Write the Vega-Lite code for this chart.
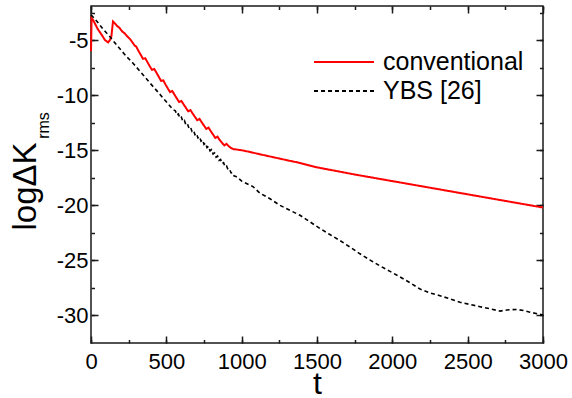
{
  "$schema": "https://vega.github.io/schema/vega-lite/v6.json",
  "width": 452,
  "height": 337,
  "autosize": "none",
  "padding": {"left": 91, "top": 6, "right": 29, "bottom": 55},
  "datasets": {
    "conv": [
      {"t": 0, "v": -6.0, "s": "conventional"},
      {"t": 4, "v": -3.0, "s": "conventional"},
      {"t": 15, "v": -3.2, "s": "conventional"},
      {"t": 30, "v": -3.6, "s": "conventional"},
      {"t": 45, "v": -4.0, "s": "conventional"},
      {"t": 60, "v": -4.3, "s": "conventional"},
      {"t": 75, "v": -4.6, "s": "conventional"},
      {"t": 93, "v": -5.0, "s": "conventional"},
      {"t": 113, "v": -5.2, "s": "conventional"},
      {"t": 125, "v": -5.0, "s": "conventional"},
      {"t": 135, "v": -4.7, "s": "conventional"},
      {"t": 146, "v": -3.3, "s": "conventional"},
      {"t": 160, "v": -3.5, "s": "conventional"},
      {"t": 172, "v": -3.7, "s": "conventional"},
      {"t": 190, "v": -3.9, "s": "conventional"},
      {"t": 206, "v": -4.2, "s": "conventional"},
      {"t": 225, "v": -4.4, "s": "conventional"},
      {"t": 240, "v": -4.65, "s": "conventional"},
      {"t": 259, "v": -4.9, "s": "conventional"},
      {"t": 275, "v": -5.2, "s": "conventional"},
      {"t": 290, "v": -5.5, "s": "conventional"},
      {"t": 300, "v": -5.58, "s": "conventional"},
      {"t": 315, "v": -5.97, "s": "conventional"},
      {"t": 330, "v": -6.33, "s": "conventional"},
      {"t": 345, "v": -6.7, "s": "conventional"},
      {"t": 360, "v": -6.64, "s": "conventional"},
      {"t": 375, "v": -7.01, "s": "conventional"},
      {"t": 390, "v": -7.37, "s": "conventional"},
      {"t": 405, "v": -7.7, "s": "conventional"},
      {"t": 420, "v": -7.62, "s": "conventional"},
      {"t": 435, "v": -7.97, "s": "conventional"},
      {"t": 450, "v": -8.33, "s": "conventional"},
      {"t": 465, "v": -8.7, "s": "conventional"},
      {"t": 480, "v": -8.65, "s": "conventional"},
      {"t": 495, "v": -9.04, "s": "conventional"},
      {"t": 510, "v": -9.39, "s": "conventional"},
      {"t": 525, "v": -9.72, "s": "conventional"},
      {"t": 540, "v": -9.62, "s": "conventional"},
      {"t": 555, "v": -9.97, "s": "conventional"},
      {"t": 570, "v": -10.3, "s": "conventional"},
      {"t": 585, "v": -10.62, "s": "conventional"},
      {"t": 600, "v": -10.52, "s": "conventional"},
      {"t": 615, "v": -10.84, "s": "conventional"},
      {"t": 630, "v": -11.15, "s": "conventional"},
      {"t": 645, "v": -11.46, "s": "conventional"},
      {"t": 660, "v": -11.35, "s": "conventional"},
      {"t": 675, "v": -11.67, "s": "conventional"},
      {"t": 690, "v": -11.97, "s": "conventional"},
      {"t": 705, "v": -12.27, "s": "conventional"},
      {"t": 720, "v": -12.15, "s": "conventional"},
      {"t": 735, "v": -12.46, "s": "conventional"},
      {"t": 750, "v": -12.76, "s": "conventional"},
      {"t": 765, "v": -13.06, "s": "conventional"},
      {"t": 780, "v": -12.94, "s": "conventional"},
      {"t": 795, "v": -13.27, "s": "conventional"},
      {"t": 810, "v": -13.57, "s": "conventional"},
      {"t": 825, "v": -13.88, "s": "conventional"},
      {"t": 840, "v": -13.76, "s": "conventional"},
      {"t": 855, "v": -14.09, "s": "conventional"},
      {"t": 870, "v": -14.33, "s": "conventional"},
      {"t": 885, "v": -14.56, "s": "conventional"},
      {"t": 900, "v": -14.42, "s": "conventional"},
      {"t": 915, "v": -14.64, "s": "conventional"},
      {"t": 930, "v": -14.8, "s": "conventional"},
      {"t": 945, "v": -14.9, "s": "conventional"},
      {"t": 960, "v": -14.92, "s": "conventional"},
      {"t": 1000, "v": -15.0, "s": "conventional"},
      {"t": 1055, "v": -15.15, "s": "conventional"},
      {"t": 1100, "v": -15.3, "s": "conventional"},
      {"t": 1200, "v": -15.6, "s": "conventional"},
      {"t": 1300, "v": -15.9, "s": "conventional"},
      {"t": 1387, "v": -16.15, "s": "conventional"},
      {"t": 1500, "v": -16.55, "s": "conventional"},
      {"t": 1750, "v": -17.2, "s": "conventional"},
      {"t": 2000, "v": -17.8, "s": "conventional"},
      {"t": 2250, "v": -18.4, "s": "conventional"},
      {"t": 2500, "v": -19.0, "s": "conventional"},
      {"t": 2750, "v": -19.6, "s": "conventional"},
      {"t": 3000, "v": -20.2, "s": "conventional"}
    ],
    "ybs": [
      {"t": 0, "v": -2.7, "s": "YBS [26]"},
      {"t": 40, "v": -3.3, "s": "YBS [26]"},
      {"t": 80, "v": -4.0, "s": "YBS [26]"},
      {"t": 126, "v": -4.7, "s": "YBS [26]"},
      {"t": 180, "v": -5.6, "s": "YBS [26]"},
      {"t": 230, "v": -6.4, "s": "YBS [26]"},
      {"t": 279, "v": -7.1, "s": "YBS [26]"},
      {"t": 330, "v": -7.9, "s": "YBS [26]"},
      {"t": 392, "v": -8.9, "s": "YBS [26]"},
      {"t": 450, "v": -9.8, "s": "YBS [26]"},
      {"t": 500, "v": -10.6, "s": "YBS [26]"},
      {"t": 544, "v": -11.3, "s": "YBS [26]"},
      {"t": 560, "v": -11.42, "s": "YBS [26]"},
      {"t": 570, "v": -11.8, "s": "YBS [26]"},
      {"t": 580, "v": -11.71, "s": "YBS [26]"},
      {"t": 590, "v": -12.1, "s": "YBS [26]"},
      {"t": 600, "v": -12.0, "s": "YBS [26]"},
      {"t": 610, "v": -12.39, "s": "YBS [26]"},
      {"t": 620, "v": -12.3, "s": "YBS [26]"},
      {"t": 630, "v": -12.7, "s": "YBS [26]"},
      {"t": 640, "v": -12.6, "s": "YBS [26]"},
      {"t": 650, "v": -12.98, "s": "YBS [26]"},
      {"t": 660, "v": -12.88, "s": "YBS [26]"},
      {"t": 670, "v": -13.28, "s": "YBS [26]"},
      {"t": 680, "v": -13.18, "s": "YBS [26]"},
      {"t": 690, "v": -13.58, "s": "YBS [26]"},
      {"t": 700, "v": -13.46, "s": "YBS [26]"},
      {"t": 710, "v": -13.88, "s": "YBS [26]"},
      {"t": 720, "v": -13.76, "s": "YBS [26]"},
      {"t": 730, "v": -14.17, "s": "YBS [26]"},
      {"t": 740, "v": -14.05, "s": "YBS [26]"},
      {"t": 750, "v": -14.46, "s": "YBS [26]"},
      {"t": 760, "v": -14.35, "s": "YBS [26]"},
      {"t": 770, "v": -14.76, "s": "YBS [26]"},
      {"t": 780, "v": -14.64, "s": "YBS [26]"},
      {"t": 790, "v": -15.05, "s": "YBS [26]"},
      {"t": 800, "v": -14.94, "s": "YBS [26]"},
      {"t": 810, "v": -15.34, "s": "YBS [26]"},
      {"t": 820, "v": -15.24, "s": "YBS [26]"},
      {"t": 830, "v": -15.63, "s": "YBS [26]"},
      {"t": 840, "v": -15.53, "s": "YBS [26]"},
      {"t": 850, "v": -15.92, "s": "YBS [26]"},
      {"t": 860, "v": -15.83, "s": "YBS [26]"},
      {"t": 870, "v": -16.21, "s": "YBS [26]"},
      {"t": 880, "v": -16.13, "s": "YBS [26]"},
      {"t": 890, "v": -16.5, "s": "YBS [26]"},
      {"t": 900, "v": -16.43, "s": "YBS [26]"},
      {"t": 910, "v": -16.78, "s": "YBS [26]"},
      {"t": 920, "v": -16.74, "s": "YBS [26]"},
      {"t": 930, "v": -17.06, "s": "YBS [26]"},
      {"t": 940, "v": -17.04, "s": "YBS [26]"},
      {"t": 950, "v": -17.34, "s": "YBS [26]"},
      {"t": 960, "v": -17.36, "s": "YBS [26]"},
      {"t": 980, "v": -17.55, "s": "YBS [26]"},
      {"t": 1000, "v": -17.8, "s": "YBS [26]"},
      {"t": 1075, "v": -18.3, "s": "YBS [26]"},
      {"t": 1122, "v": -18.9, "s": "YBS [26]"},
      {"t": 1188, "v": -19.4, "s": "YBS [26]"},
      {"t": 1254, "v": -20.0, "s": "YBS [26]"},
      {"t": 1320, "v": -20.45, "s": "YBS [26]"},
      {"t": 1387, "v": -20.9, "s": "YBS [26]"},
      {"t": 1453, "v": -21.5, "s": "YBS [26]"},
      {"t": 1520, "v": -22.1, "s": "YBS [26]"},
      {"t": 1585, "v": -22.65, "s": "YBS [26]"},
      {"t": 1653, "v": -23.2, "s": "YBS [26]"},
      {"t": 1720, "v": -23.8, "s": "YBS [26]"},
      {"t": 1785, "v": -24.4, "s": "YBS [26]"},
      {"t": 1850, "v": -24.95, "s": "YBS [26]"},
      {"t": 1918, "v": -25.5, "s": "YBS [26]"},
      {"t": 1985, "v": -26.0, "s": "YBS [26]"},
      {"t": 2051, "v": -26.5, "s": "YBS [26]"},
      {"t": 2120, "v": -27.05, "s": "YBS [26]"},
      {"t": 2184, "v": -27.6, "s": "YBS [26]"},
      {"t": 2250, "v": -27.95, "s": "YBS [26]"},
      {"t": 2316, "v": -28.2, "s": "YBS [26]"},
      {"t": 2383, "v": -28.5, "s": "YBS [26]"},
      {"t": 2449, "v": -28.8, "s": "YBS [26]"},
      {"t": 2515, "v": -29.0, "s": "YBS [26]"},
      {"t": 2582, "v": -29.2, "s": "YBS [26]"},
      {"t": 2650, "v": -29.4, "s": "YBS [26]"},
      {"t": 2715, "v": -29.6, "s": "YBS [26]"},
      {"t": 2761, "v": -29.5, "s": "YBS [26]"},
      {"t": 2827, "v": -29.45, "s": "YBS [26]"},
      {"t": 2870, "v": -29.55, "s": "YBS [26]"},
      {"t": 2914, "v": -29.7, "s": "YBS [26]"},
      {"t": 2980, "v": -29.9, "s": "YBS [26]"},
      {"t": 3000, "v": -29.95, "s": "YBS [26]"}
    ]
  },
  "layer": [
    {
      "data": {"name": "conv"},
      "mark": {"type": "line", "strokeWidth": 2},
      "encoding": {
        "x": {"field": "t", "type": "quantitative", "scale": {"domain": [0, 3000], "nice": false, "zero": false},
          "axis": {"orient": "bottom", "values": [0, 500, 1000, 1500, 2000, 2500, 3000], "ticks": false, "domain": false, "labelFontSize": 22, "labelPadding": 8, "labelFlush": false, "labelOverlap": false, "labelExpr": "toString(datum.value)",
            "title": "t", "titleFontSize": 32, "titleX": 226, "titleY": 50, "titleAlign": "center", "titleBaseline": "alphabetic"}},
        "y": {"field": "v", "type": "quantitative", "scale": {"domain": [-32.5, -1.9], "nice": false, "zero": false},
          "axis": {"orient": "left", "values": [-30, -25, -20, -15, -10, -5], "ticks": false, "domain": false, "labelFontSize": 22, "labelPadding": 3, "labelExpr": "toString(datum.value)", "labelOverlap": false,
            "title": "logΔK", "titleFontSize": 33, "titleAngle": 270, "titleX": -56, "titleY": 180, "titleAlign": "center", "titleBaseline": "alphabetic"}},
        "color": {"field": "s", "type": "nominal", "scale": {"domain": ["conventional", "YBS [26]"], "range": ["#ff0000", "#000000"]}, "legend": {"title": null}},
        "strokeDash": {"field": "s", "type": "nominal", "scale": {"domain": ["conventional", "YBS [26]"], "range": [[1, 0], [4, 3]]}, "legend": {"title": null}}
      }
    },
    {
      "data": {"name": "ybs"},
      "mark": {"type": "line", "strokeWidth": 1.6},
      "encoding": {
        "x": {"field": "t", "type": "quantitative",
          "axis": {"orient": "top", "values": [0, 500, 1000, 1500, 2000, 2500, 3000], "labels": false, "domain": false, "tickSize": -7, "title": null}},
        "y": {"field": "v", "type": "quantitative",
          "axis": {"orient": "right", "values": [-30, -25, -20, -15, -10, -5], "labels": false, "domain": false, "tickSize": -7,
            "title": "rms", "titleFontSize": 16, "titleAngle": 270, "titleX": -495, "titleY": 119, "titleAlign": "center", "titleBaseline": "alphabetic"}},
        "color": {"field": "s", "type": "nominal", "legend": {"title": null}},
        "strokeDash": {"field": "s", "type": "nominal", "legend": {"title": null}}
      }
    },
    {
      "data": {"name": "conv"},
      "mark": {"type": "line", "opacity": 0},
      "encoding": {
        "x": {"field": "t", "type": "quantitative",
          "axis": {"orient": "bottom", "values": [0, 250, 500, 750, 1000, 1250, 1500, 1750, 2000, 2250, 2500, 2750, 3000], "labels": false, "domain": false, "tickSize": -3.5, "title": null}},
        "y": {"field": "v", "type": "quantitative",
          "axis": {"orient": "left", "values": [-30, -27.5, -25, -22.5, -20, -17.5, -15, -12.5, -10, -7.5, -5, -2.5], "labels": false, "domain": false, "tickSize": -3.5, "title": null}}
      }
    },
    {
      "data": {"name": "conv"},
      "mark": {"type": "line", "opacity": 0},
      "encoding": {
        "x": {"field": "t", "type": "quantitative",
          "axis": {"orient": "top", "values": [0, 250, 500, 750, 1000, 1250, 1500, 1750, 2000, 2250, 2500, 2750, 3000], "labels": false, "domain": false, "tickSize": -3.5, "title": null}},
        "y": {"field": "v", "type": "quantitative",
          "axis": {"orient": "right", "values": [-30, -27.5, -25, -22.5, -20, -17.5, -15, -12.5, -10, -7.5, -5, -2.5], "labels": false, "domain": false, "tickSize": -3.5, "title": null}}
      }
    },
    {
      "data": {"name": "conv"},
      "mark": {"type": "line", "opacity": 0},
      "encoding": {
        "x": {"field": "t", "type": "quantitative",
          "axis": {"orient": "bottom", "values": [0, 500, 1000, 1500, 2000, 2500, 3000], "labels": false, "domain": false, "tickSize": -7, "title": null}},
        "y": {"field": "v", "type": "quantitative",
          "axis": {"orient": "left", "values": [-30, -25, -20, -15, -10, -5], "labels": false, "domain": false, "tickSize": -7, "title": null}}
      }
    }
  ],
  "resolve": {"axis": {"x": "independent", "y": "independent"}},
  "config": {
    "font": "Liberation Sans",
    "view": {"stroke": "#1a1a1a", "strokeWidth": 1.5},
    "axis": {"grid": false, "labelColor": "#000000", "titleColor": "#000000", "titleFontWeight": "normal", "tickColor": "#1a1a1a", "tickWidth": 1.5, "labelFont": "Liberation Sans", "titleFont": "Liberation Sans"},
    "legend": {"orient": "none", "legendX": 240, "legendY": 43, "symbolType": "M-2.5,0H2.5", "symbolSize": 576, "symbolStrokeWidth": 2, "labelFontSize": 25, "labelOffset": 26, "labelLimit": 300, "labelColor": "#000000", "labelFont": "Liberation Sans", "padding": 0, "rowPadding": 3}
  }
}
